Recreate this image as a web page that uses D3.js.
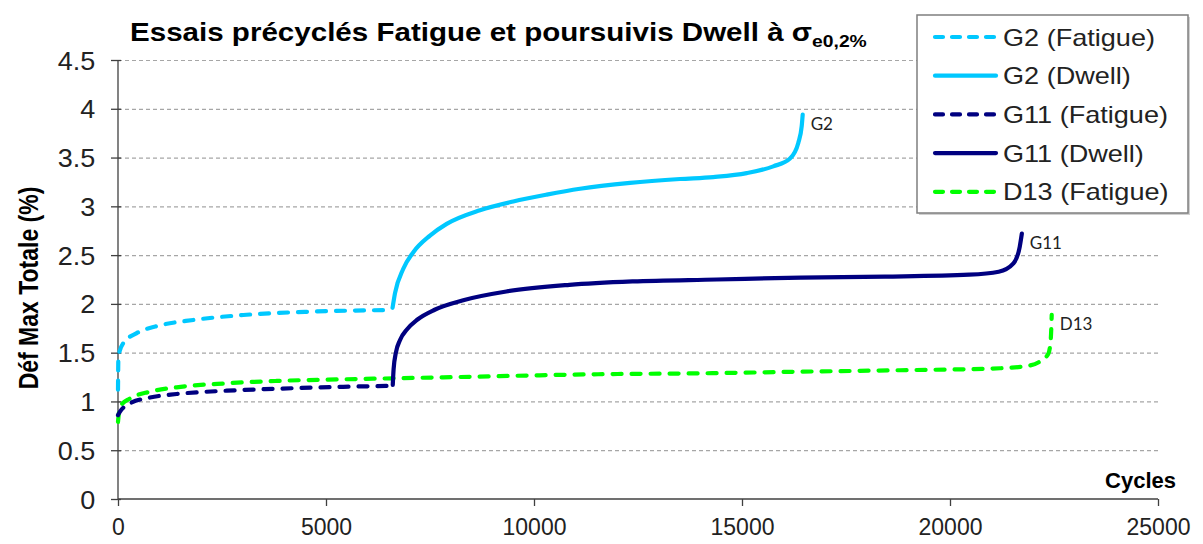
<!DOCTYPE html>
<html><head><meta charset="utf-8">
<script src="https://cdn.jsdelivr.net/npm/d3@7"></script>
<style>body{margin:0;background:#fff}svg{display:block}</style>
</head><body>
<svg id="chart" width="1203" height="544"></svg>
<script>
// ---- data ----
const g2FatCycles = [0, 10, 130, 450, 1010, 1810, 3012, 4616, 6590];
const g2FatVals   = [1.12, 1.46, 1.60, 1.70, 1.78, 1.835, 1.886, 1.92, 1.937];

const g2DwellCycles = [6600, 6659, 6858, 7099, 7500, 7901, 8702, 9502, 10305, 11106, 12308, 13510, 14310, 15113, 15752, 16154, 16353, 16435, 16459];
const g2DwellVals   = [1.96, 2.11, 2.36, 2.53, 2.70, 2.82, 2.96, 3.05, 3.12, 3.18, 3.24, 3.28, 3.30, 3.34, 3.41, 3.49, 3.65, 3.82, 3.94];

const g11FatCycles = [0, 48, 288, 769, 1411, 2613, 3815, 5416, 6600];
const g11FatVals   = [0.86, 0.895, 0.98, 1.04, 1.076, 1.11, 1.13, 1.15, 1.16];

const g11DwellCycles = [6605, 6625, 6680, 6780, 6950, 7200, 7613, 8323, 9335, 10851, 12368, 14393, 16417, 18438, 20462, 21171, 21525, 21676, 21727];
const g11DwellVals   = [1.17, 1.33, 1.50, 1.63, 1.74, 1.84, 1.94, 2.04, 2.127, 2.195, 2.23, 2.25, 2.27, 2.28, 2.30, 2.33, 2.415, 2.585, 2.72];

const d13FatCycles = [0, 48, 288, 769, 1411, 2613, 3815, 5416, 6618, 7820, 11748, 13990, 16394, 18798, 21202, 21844, 22164, 22364, 22421, 22445];
const d13FatVals   = [0.79, 0.946, 1.03, 1.10, 1.145, 1.186, 1.21, 1.227, 1.237, 1.247, 1.28, 1.288, 1.305, 1.32, 1.34, 1.363, 1.41, 1.49, 1.63, 1.887];

const xTicks = [0, 5000, 10000, 15000, 20000, 25000];
const yTicks = [0, 0.5, 1, 1.5, 2, 2.5, 3, 3.5, 4, 4.5];

const seriesNames = ["G2 (Fatigue)", "G2 (Dwell)", "G11 (Fatigue)", "G11 (Dwell)", "D13 (Fatigue)"];
const endLabels = ["G2", "G11", "D13"];

// ---- layout ----
const svg = d3.select("#chart");
const x = d3.scaleLinear().domain([0, 25000]).range([118, 1158]);
const y = d3.scaleLinear().domain([0, 4.5]).range([499, 60]);
const CYAN = "#00C8FF", NAVY = "#000080", GREEN = "#00FF00";
const DASH = "9,10";
const fontAx = "'Liberation Sans', Arial, sans-serif";

// horizontal stretch helper (keeps left x fixed)
function stretch(sel, sx, x0) {
  sel.attr("transform", `translate(${x0},0) scale(${sx},1) translate(${-x0},0)`);
}

// gridlines
svg.append("g").selectAll("line").data(yTicks.filter(v => v > 0)).join("line")
  .attr("x1", x(0)).attr("x2", x(25000))
  .attr("y1", d => y(d) + 0.5).attr("y2", d => y(d) + 0.5)
  .attr("stroke", "#A6A6A6").attr("stroke-width", 1.2).attr("stroke-dasharray", "4,3");

// axes
const yAxis = svg.append("g").attr("transform", `translate(${x(0)},0)`)
  .call(d3.axisLeft(y).tickValues(yTicks).tickSize(7).tickFormat(d => String(d)));
yAxis.selectAll(".tick line").attr("x2", -7).attr("x1", 3);
const xAxis = svg.append("g").attr("transform", `translate(0,${y(0)})`)
  .call(d3.axisBottom(x).tickValues(xTicks).tickSize(7).tickFormat(d => String(d)));
[yAxis, xAxis].forEach(a => {
  a.select(".domain").attr("stroke", "#404040").attr("stroke-width", 1.3);
  a.selectAll(".tick line").attr("stroke", "#404040").attr("stroke-width", 1.3);
  a.selectAll("text").attr("font-family", fontAx).attr("fill", "#222");
});
yAxis.select(".domain").attr("d", `M0,${y(4.5)}V${y(0)}`);
xAxis.select(".domain").attr("d", `M${x(0)},0H${x(25000)}`);
yAxis.selectAll("text").attr("font-size", 25).attr("x", -21).attr("dy", "0.36em")
  .attr("transform", "scale(1.08,1)");
xAxis.selectAll("text").attr("font-size", 23).attr("y", 18).attr("dy", "0.8em");

// series
const line = d3.line().x(d => x(d[0])).y(d => y(d[1])).curve(d3.curveMonotoneX);
const zip = (a, b) => a.map((v, i) => [v, b[i]]);
const series = [
  { c: g2FatCycles, v: g2FatVals, col: CYAN, dash: DASH },
  { c: d13FatCycles, v: d13FatVals, col: GREEN, dash: DASH },
  { c: g11FatCycles, v: g11FatVals, col: NAVY, dash: DASH },
  { c: g2DwellCycles, v: g2DwellVals, col: CYAN, dash: null },
  { c: g11DwellCycles, v: g11DwellVals, col: NAVY, dash: null },
];
series.forEach(s => {
  svg.append("path").attr("d", line(zip(s.c, s.v)))
    .attr("fill", "none").attr("stroke", s.col).attr("stroke-width", 4.2)
    .attr("stroke-linecap", "round").attr("stroke-linejoin", "round")
    .attr("stroke-dasharray", s.dash);
});

// end labels
const ends = [
  [g2DwellCycles, g2DwellVals], [g11DwellCycles, g11DwellVals], [d13FatCycles, d13FatVals]
];
ends.forEach((e, i) => {
  const n = e[0].length - 1;
  svg.append("text").attr("x", x(e[0][n]) + 8).attr("y", y(e[1][n]) + 15)
    .attr("font-family", "Lato, 'Open Sans', sans-serif").attr("font-size", 17).attr("fill", "#222")
    .text(endLabels[i]);
});

// title
const title = svg.append("text").attr("x", 130).attr("y", 41)
  .attr("font-family", fontAx).attr("font-weight", "bold").attr("font-size", 26).attr("fill", "#000");
title.append("tspan").text("Essais précyclés Fatigue et poursuivis Dwell à σ");
title.append("tspan").attr("font-size", 17).attr("dy", 6).text("e0,2%");
{
  const w = title.node().getBBox().width;
  stretch(title, 737 / w, 130);
}

// axis titles
svg.append("text").attr("transform", `translate(38,288) scale(1.2,1) rotate(-90)`).attr("text-anchor", "middle")
  .attr("font-family", fontAx).attr("font-weight", "bold").attr("font-size", 23).attr("fill", "#000")
  .text("Déf Max Totale (%)");
svg.append("text").attr("x", 1176).attr("y", 488).attr("text-anchor", "end")
  .attr("font-family", fontAx).attr("font-weight", "bold").attr("font-size", 22).attr("fill", "#000")
  .text("Cycles");

// legend
const lg = svg.append("g");
lg.append("rect").attr("x", 919).attr("y", 17).attr("width", 271).attr("height", 198).attr("fill", "#d0d0d0");
lg.append("rect").attr("x", 917).attr("y", 15).attr("width", 271).attr("height", 198)
  .attr("fill", "#fff").attr("stroke", "#7f7f7f").attr("stroke-width", 1.5);
const legendStyles = [[CYAN, DASH], [CYAN, null], [NAVY, DASH], [NAVY, null], [GREEN, DASH]];
const legTexts = [];
seriesNames.forEach((name, i) => {
  const yy = 37 + i * 38.7;
  lg.append("line").attr("x1", 935).attr("x2", 996).attr("y1", yy).attr("y2", yy)
    .attr("stroke", legendStyles[i][0]).attr("stroke-width", 4.2).attr("stroke-linecap", "round")
    .attr("stroke-dasharray", legendStyles[i][1] ? "8,9" : null);
  legTexts.push(lg.append("text").attr("x", 1003).attr("y", yy).attr("dy", "0.36em")
    .attr("font-family", fontAx).attr("font-size", 24).attr("fill", "#222").text(name));
});
{
  const w0 = legTexts[0].node().getComputedTextLength();
  const sx = 152 / w0;
  legTexts.forEach(t => stretch(t, sx, 1003));
}
</script>
</body></html>
